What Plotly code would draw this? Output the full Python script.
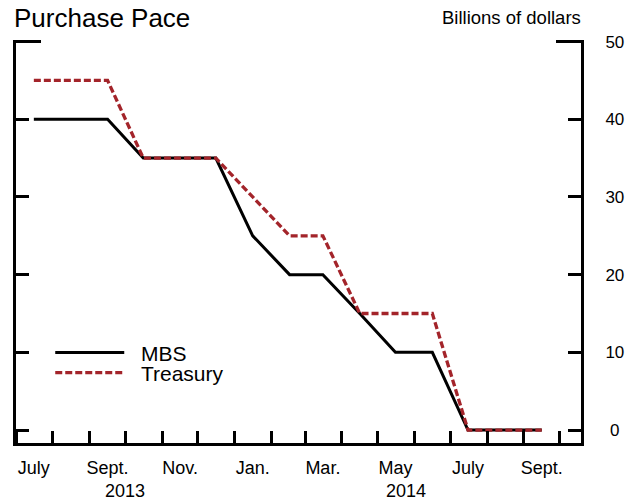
import pandas as pd
import plotly.graph_objects as go

# monthly purchase pace, billions of dollars (July 2013 - Sept. 2014)
months = pd.date_range("2013-07-01", periods=15, freq="MS") + pd.Timedelta(days=15)
mbs = [40, 40, 40, 35, 35, 35, 25, 20, 20, 15, 10, 10, 0, 0, 0]
treasury = [45, 45, 45, 35, 35, 35, 30, 25, 25, 15, 15, 15, 0, 0, 0]

month_ticks = months[::2]
month_labels = ["July", "Sept.", "Nov.", "Jan.", "Mar.", "May", "July", "Sept."]
year_labels = ["2013", "2014"]
year_pos = ["2013-10-01", "2014-05-25"]
y_ticks = [0, 10, 20, 30, 40, 50]
y_labels = ["\u00a00", "10", "20", "30", "40", "50"]

FONT = "Liberation Sans, Arial, sans-serif"
RED = "#a3242a"
PAD = "\u00a0\u00a0"  # gap between legend line and its text
# a little headroom so plotly keeps the tick at 50 (edge ticks get clipped)
Y_RANGE = [-1.67, 50.2]

fig = go.Figure()
fig.add_trace(go.Scatter(x=months, y=mbs, name=PAD + "MBS", mode="lines",
                         line=dict(color="black", width=3), legend="legend"))
fig.add_trace(go.Scatter(x=months, y=treasury, name=PAD + "Treasury", mode="lines",
                         line=dict(color=RED, width=3.3, dash="7px,3px"),
                         yaxis="y2", legend="legend2"))

for txt, xp in zip(year_labels, year_pos):
    fig.add_annotation(text=txt, x=xp, xref="x", y=-0.119, yref="paper",
                       yanchor="middle", showarrow=False,
                       font=dict(size=18, color="black"))

fig.add_annotation(text="Billions of dollars", x=1.0, xref="paper", y=1.057,
                   yref="paper", xanchor="right", yanchor="middle", xshift=2,
                   showarrow=False, font=dict(size=18.5, color="black"))

fig.update_xaxes(type="date", range=["2013-07-01", "2014-10-19"],
                 tickvals=month_ticks, ticktext=month_labels, ticks="",
                 ticklabelstandoff=6,
                 minor=dict(tick0="2013-07-01", dtick="M1", ticks="inside",
                            ticklen=12, tickwidth=3, tickcolor="black",
                            showgrid=False),
                 showline=True, linewidth=3, linecolor="black",
                 showgrid=False, zeroline=False,
                 tickfont=dict(size=18, color="black"))

legend_style = dict(xanchor="left", yanchor="middle", bgcolor="rgba(0,0,0,0)",
                    borderwidth=0, itemwidth=69,
                    font=dict(size=21, color="black"))

fig.update_layout(
    width=625, height=493,
    margin=dict(l=4.6, r=52, t=31.5, b=58),
    paper_bgcolor="white", plot_bgcolor="white",
    font=dict(family=FONT, color="black"),
    title=dict(text="Purchase Pace", x=0.0096, xanchor="left", y=0.9797,
               yanchor="middle", font=dict(size=26, color="black")),
    yaxis=dict(range=Y_RANGE, side="right", tickvals=y_ticks,
               ticktext=y_labels, ticks="inside", ticklen=13, tickwidth=3,
               tickcolor="black", mirror="ticks", showline=True,
               linewidth=3, linecolor="black", showgrid=False,
               zeroline=False, ticklabelstandoff=18,
               tickfont=dict(size=17, color="black")),
    yaxis2=dict(range=Y_RANGE, overlaying="y", side="right",
                tickvals=[50], ticks="inside", ticklen=25,
                tickwidth=3, tickcolor="black", mirror="ticks",
                showticklabels=False, showline=False, showgrid=False,
                zeroline=False),
    showlegend=True,
    legend=dict(x=0.0606, y=0.224, **legend_style),
    legend2=dict(x=0.0606, y=0.174, **legend_style),
)

fig.write_html("out.html")
